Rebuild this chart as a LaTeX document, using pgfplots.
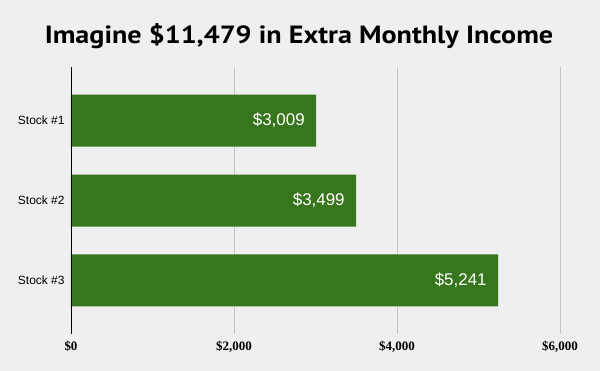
\documentclass[border=0pt]{standalone}
\usepackage{pgfplots}
\pgfplotsset{compat=1.18}
\usepackage{fontspec}
\setmainfont{Liberation Sans}
\newfontfamily\titlefont{PT Sans}
\newfontfamily\tickfont{Liberation Serif}
\definecolor{bg}{HTML}{EFEFEF}
\definecolor{barc}{HTML}{38761D}
\definecolor{gridc}{HTML}{C4C4C4}
\begin{document}
\begin{tikzpicture}
\fill[bg] (-71bp,-37bp) rectangle (529bp,334bp);
\node[font=\titlefont\bfseries\fontsize{25}{29}\selectfont] at (228bp,298bp) {\scalebox{1.13}[1]{Imagine \$11,479 in Extra Monthly Income}};
\begin{axis}[
  at={(0,0)}, anchor=south west,
  scale only axis, width=489bp, height=267bp,
  xbar, bar width=52bp,
  xmin=0, xmax=6000, ymin=-0.67, ymax=2.67, y dir=reverse,
  ytick={0,1,2}, yticklabels={Stock \#1, Stock \#2, Stock \#3},
  xtick={0,2000,4000,6000}, xticklabels={\$0,\$2{,}000,\$4{,}000,\$6{,}000},
  xmajorgrids, grid style={gridc, line width=0.8bp},
  axis line style={draw=none},
  major tick length=0pt, tick style={draw=none},
  yticklabel style={font=\fontsize{12}{14}\selectfont, xshift=-3bp},
  xticklabel style={font=\tickfont\bfseries\fontsize{13}{15}\selectfont, yshift=-4bp},
  point meta=x,
  nodes near coords={\$\pgfmathprintnumber[assume math mode=true, 1000 sep={,}]{\pgfplotspointmeta}},
  every node near coord/.append style={anchor=east, xshift=-8bp, text=white, font=\fontsize{17}{20}\selectfont},
]
\addplot[fill=barc, draw=none] coordinates {(3009,0) (3499,1) (5241,2)};
\draw[black, line width=0.8bp] (axis cs:0,-0.67) -- (axis cs:0,2.67);
\end{axis}
\end{tikzpicture}
\end{document}
